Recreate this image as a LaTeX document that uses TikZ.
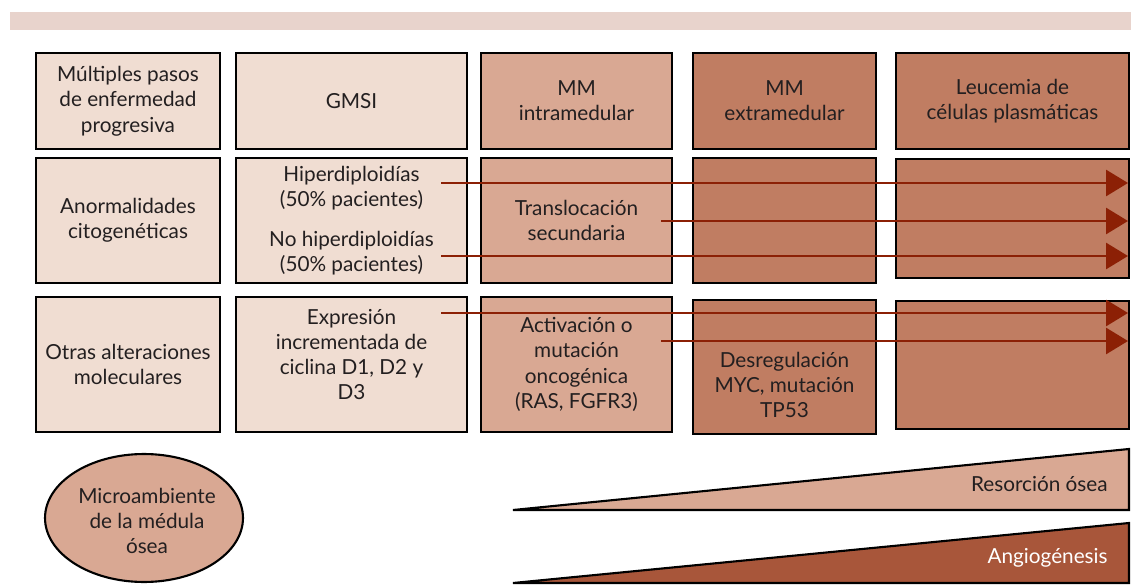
\documentclass[tikz,border=0pt]{standalone}
\usepackage{fontspec}
\setmainfont{Lato}
\usetikzlibrary{arrows.meta,shapes.geometric}

\definecolor{barPink}{HTML}{E8D3CC}
\definecolor{cellLight}{HTML}{F0DDD2}
\definecolor{cellMid}{HTML}{D9A893}
\definecolor{cellDark}{HTML}{C07D62}
\definecolor{wedgeDark}{HTML}{A8563A}
\definecolor{flowRed}{RGB}{140,32,5}
\definecolor{inkGray}{HTML}{231F20}

\begin{document}
\begin{tikzpicture}[x=0.02cm, y=-0.02cm,
    cell/.style={draw=black, line width=1.2pt, align=center, inner sep=0pt,
      text=inkGray, font=\fontsize{11.8}{14.4}\selectfont},
    txt/.style={align=center, inner sep=0pt, text=inkGray,
      font=\fontsize{11.8}{14.4}\selectfont},
    flow/.style={draw=flowRed, line width=1.6pt,
      -{Triangle[length=0.44cm, width=0.52cm, fill=flowRed]}},
    wedge/.style={draw=black, line width=1.2pt}]
    \useasboundingbox (0,0) rectangle (1131,587);

    % Title band
    \fill[barPink] (10,12) rectangle (1131,30);

    % First row: stages
    \node[cell, fill=cellLight, minimum width=3.68cm, minimum height=1.92cm] (r1c1) at (128,101) {Múltiples pasos\\de enfermedad\\progresiva};
    \node[cell, fill=cellLight, minimum width=4.62cm, minimum height=1.92cm] (r1c2) at (351.5,101) {GMSI};
    \node[cell, fill=cellMid, minimum width=3.82cm, minimum height=1.92cm] (r1c3) at (576.5,101) {MM\\intramedular};
    \node[cell, fill=cellDark, minimum width=3.66cm, minimum height=1.92cm] (r1c4) at (784.5,101) {MM\\extramedular};
    \node[cell, fill=cellDark, minimum width=4.66cm, minimum height=1.92cm] (r1c5) at (1012.5,101) {Leucemia de\\células plasmáticas};

    % Second row: cytogenetics
    \node[cell, fill=cellLight, minimum width=3.68cm, minimum height=2.5cm] (r2c1) at (128,220.5) {Anormalidades\\citogenéticas};
    \node[cell, fill=cellLight, minimum width=4.62cm, minimum height=2.5cm] (r2c2) at (351.5,220.5) {Hiperdiploidías\\(50\% pacientes)\\[0.28cm]No hiperdiploidías\\(50\% pacientes)};
    \node[cell, fill=cellMid, minimum width=3.82cm, minimum height=2.5cm] (r2c3) at (576.5,220.5) {Translocación\\secundaria};
    \node[cell, fill=cellDark, minimum width=3.66cm, minimum height=2.5cm] (r2c4) at (784.5,220.5) {};
    \node[cell, fill=cellDark, minimum width=4.66cm, minimum height=2.38cm] (r2c5) at (1012.5,218.5) {};

    % Third row: other molecular changes
    \node[cell, fill=cellLight, minimum width=3.68cm, minimum height=2.7cm] (r3c1) at (128,364.5) {Otras alteraciones\\moleculares};
    \node[cell, fill=cellLight, minimum width=4.62cm, minimum height=2.7cm] (r3c2) at (351.5,364.5) {};
    \node[txt] (t3c2) at (351.5,354.5) {Expresión\\incrementada de\\ciclina D1, D2 y\\D3};
    \node[cell, fill=cellMid, minimum width=3.82cm, minimum height=2.7cm] (r3c3) at (576.5,364.5) {Activación o\\mutación\\oncogénica\\(RAS, FGFR3)};
    \node[cell, fill=cellDark, minimum width=3.66cm, minimum height=2.68cm] (r3c4) at (784.5,367) {};
    \node[txt] (t3c4) at (784.5,385) {Desregulación\\MYC, mutación\\TP53};
    \node[cell, fill=cellDark, minimum width=4.66cm, minimum height=2.56cm] (r3c5) at (1012.5,365) {};

    % Arrow ends
    \coordinate (s1) at (441,183);  \coordinate (e1) at (1128,183);
    \coordinate (s2) at (661,221);  \coordinate (e2) at (1128,221);
    \coordinate (s3) at (441,256);  \coordinate (e3) at (1128,256);
    \coordinate (s4) at (441,313);  \coordinate (e4) at (1128,313);
    \coordinate (s5) at (661,341);  \coordinate (e5) at (1128,341);
    \foreach \i in {1,...,5}
      \draw[flow] (s\i) -- (e\i);

    % Bone marrow microenvironment
    \node[draw=black, line width=1.2pt, fill=cellMid, ellipse, minimum width=3.96cm,
      minimum height=2.56cm, inner sep=0pt] (micro) at (144,518) {};
    \node[txt] (tmicro) at (147,521) {Microambiente\\de la médula\\ósea};

    % Increasing wedges
    \filldraw[wedge, fill=cellMid] (513,510) -- (1129,449) -- (1129,510) -- cycle;
    \node[txt, anchor=east] (resorb) at (1108,484) {Resorción ósea};
    \filldraw[wedge, fill=wedgeDark] (513,583) -- (1129,523) -- (1129,583) -- cycle;
    \node[txt, anchor=east, text=white] (angio) at (1108,558) {Angiogénesis};
\end{tikzpicture}
\end{document}
